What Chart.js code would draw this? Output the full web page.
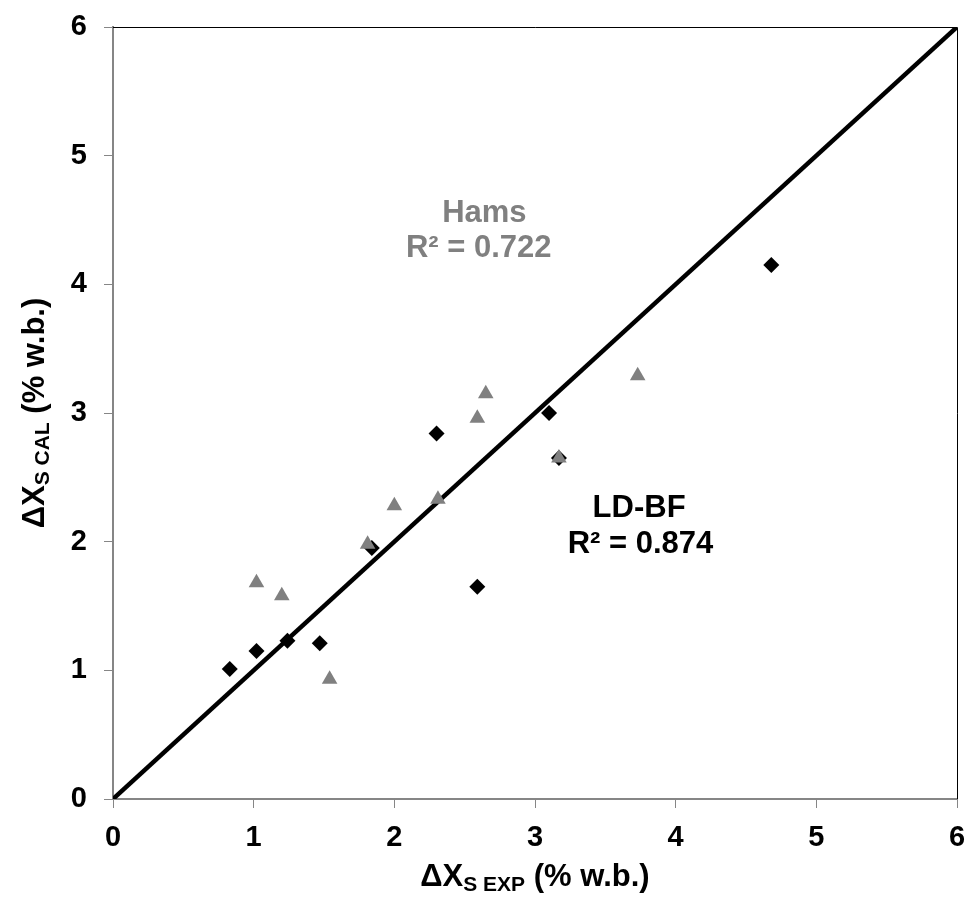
<!DOCTYPE html>
<html>
<head>
<meta charset="utf-8">
<script src="https://cdn.jsdelivr.net/npm/chart.js@4.4.1/dist/chart.umd.min.js"></script>
<style>
html, body { margin: 0; padding: 0; background: #fff; }
</style>
</head>
<body>
<canvas id="chart" width="969" height="900"></canvas>
<script>
// LD-BF model (black diamonds)
const ldbfX = [0.83, 1.02, 1.24, 1.47, 1.84, 2.30, 2.59, 3.10, 3.17, 4.68];
const ldbfY = [1.01, 1.15, 1.23, 1.21, 1.95, 2.84, 1.65, 3.00, 2.65, 4.15];

// Hams model (grey triangles)
const hamsX = [1.02, 1.20, 1.54, 1.81, 2.00, 2.31, 2.59, 2.65, 3.17, 3.73];
const hamsY = [1.68, 1.58, 0.93, 1.98, 2.28, 2.33, 2.96, 3.15, 2.65, 3.29];

// 1:1 line
const fitX = [0, 6];
const fitY = [0, 6];

const ticks = [0, 1, 2, 3, 4, 5, 6];

const FONT = '"Liberation Sans", Arial, sans-serif';

function pts(xs, ys) {
    return xs.map((v, i) => ({ x: v, y: ys[i] }));
}

function drawParts(ctx, parts, x0) {
    let x = x0;
    parts.forEach(p => {
        ctx.font = 'bold ' + p.size + 'px ' + FONT;
        ctx.fillText(p.t, x, p.dy);
        x += ctx.measureText(p.t).width;
    });
}

function partsWidth(ctx, parts) {
    let w = 0;
    parts.forEach(p => {
        ctx.font = 'bold ' + p.size + 'px ' + FONT;
        w += ctx.measureText(p.t).width;
    });
    return w;
}

const extras = {
    id: 'extras',
    afterDraw(chart) {
        const ctx = chart.ctx;
        const a = chart.chartArea;
        const xs = chart.scales.x, ys = chart.scales.y;
        ctx.save();

        // top and right frame
        ctx.strokeStyle = '#000';
        ctx.lineWidth = 1;
        ctx.beginPath();
        ctx.moveTo(a.left, a.top + 0.5);
        ctx.lineTo(a.right + 0.5, a.top + 0.5);
        ctx.lineTo(a.right + 0.5, a.bottom);
        ctx.stroke();

        // labels inside the plot
        ctx.textAlign = 'center';
        ctx.textBaseline = 'middle';
        ctx.font = 'bold 31px ' + FONT;
        ctx.fillStyle = '#808080';
        ctx.fillText('Hams', xs.getPixelForValue(2.64), ys.getPixelForValue(4.55));
        ctx.fillText('R² = 0.722', xs.getPixelForValue(2.6), ys.getPixelForValue(4.28));
        ctx.fillStyle = '#000';
        ctx.fillText('LD-BF', xs.getPixelForValue(3.74), ys.getPixelForValue(2.26));
        ctx.fillText('R² = 0.874', xs.getPixelForValue(3.75), ys.getPixelForValue(1.975));

        // axis titles with subscripts
        ctx.textAlign = 'left';
        ctx.textBaseline = 'alphabetic';
        ctx.fillStyle = '#000';
        const xParts = [
            { t: 'ΔX', size: 31, dy: 0 },
            { t: 'S EXP', size: 21, dy: 5 },
            { t: ' (% w.b.)', size: 31, dy: 0 }
        ];
        const yParts = [
            { t: 'ΔX', size: 31, dy: 0 },
            { t: 'S CAL', size: 21, dy: 5 },
            { t: ' (% w.b.)', size: 31, dy: 0 }
        ];
        ctx.save();
        ctx.translate(0, 886);
        drawParts(ctx, xParts, (a.left + a.right) / 2 - partsWidth(ctx, xParts) / 2);
        ctx.restore();

        ctx.save();
        ctx.translate(44, (a.top + a.bottom) / 2);
        ctx.rotate(-Math.PI / 2);
        drawParts(ctx, yParts, -partsWidth(ctx, yParts) / 2);
        ctx.restore();

        ctx.restore();
    }
};

function axis(pos) {
    return {
        type: 'linear',
        position: pos,
        min: 0,
        max: 6,
        afterBuildTicks: s => { s.ticks = ticks.map(v => ({ value: v })); },
        afterFit: s => {
            if (pos === 'left') s.width = 113;
            else s.height = 101;
            s.paddingTop = 0;
            s.paddingBottom = 0;
            s.paddingLeft = 0;
            s.paddingRight = 0;
        },
        grid: {
            display: true,
            drawOnChartArea: false,
            drawTicks: true,
            tickLength: 9,
            color: '#868686'
        },
        border: { color: '#868686', width: 2 },
        ticks: {
            color: '#000',
            padding: pos === 'left' ? 17 : 13,
            font: { family: FONT, size: 29, weight: 'bold' }
        }
    };
}

new Chart(document.getElementById('chart'), {
    type: 'scatter',
    data: {
        datasets: [
            {
                label: 'Hams',
                data: pts(hamsX, hamsY),
                pointStyle: 'triangle',
                pointRadius: 9,
                pointBackgroundColor: '#808080',
                pointBorderColor: '#808080',
                pointBorderWidth: 0,
                order: 0
            },
            {
                label: '1:1',
                data: pts(fitX, fitY),
                showLine: true,
                borderColor: '#000',
                borderWidth: 4.5,
                pointRadius: 0,
                order: 1
            },
            {
                label: 'LD-BF',
                data: pts(ldbfX, ldbfY),
                pointStyle: 'rectRot',
                pointRadius: 8,
                pointBackgroundColor: '#000',
                pointBorderColor: '#000',
                pointBorderWidth: 0,
                order: 2
            }
        ]
    },
    options: {
        responsive: false,
        animation: false,
        layout: { padding: { left: 0, right: 12, top: 27, bottom: 0 } },
        plugins: {
            legend: { display: false },
            tooltip: { enabled: false }
        },
        scales: {
            x: axis('bottom'),
            y: axis('left')
        }
    },
    plugins: [extras]
});
</script>
</body>
</html>
